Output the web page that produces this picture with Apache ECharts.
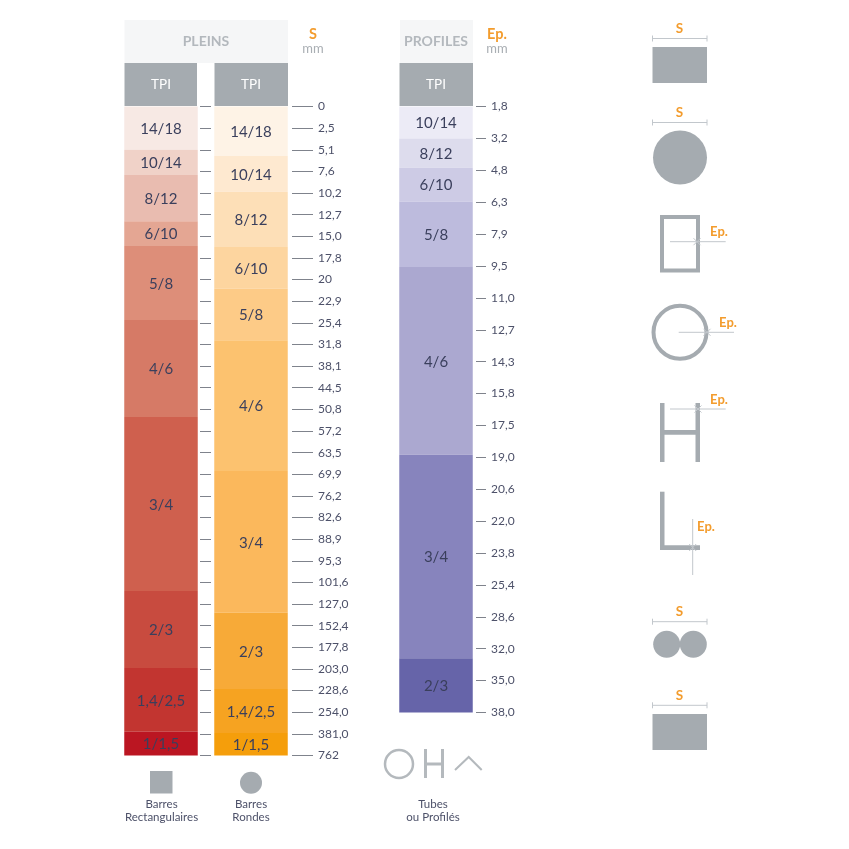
<!DOCTYPE html>
<html>
<head>
    <meta charset="UTF-8">
    <title>TPI</title>
    <script src="https://cdn.jsdelivr.net/npm/echarts@6/dist/echarts.min.js"></script>
    <style>
        html, body { margin: 0; padding: 0; background: #fff; }
    </style>
</head>
<body>
<div id="main" style="width: 849px;height:849px;"></div>
<script>
    // ticks are evenly spaced, so the value axes count tick steps and show these labels
    var sLabels = ['0', '2,5', '5,1', '7,6', '10,2', '12,7', '15,0', '17,8', '20', '22,9', '25,4', '31,8', '38,1',
        '44,5', '50,8', '57,2', '63,5', '69,9', '76,2', '82,6', '88,9', '95,3', '101,6', '127,0', '152,4', '177,8',
        '203,0', '228,6', '254,0', '381,0', '762'];
    var epLabels = ['1,8', '3,2', '4,8', '6,3', '7,9', '9,5', '11,0', '12,7', '14,3', '15,8', '17,5', '19,0', '20,6',
        '22,0', '23,8', '25,4', '28,6', '32,0', '35,0', '38,0'];

    var barTypes = ['Barres Rectangulaires', 'Barres Rondes'];
    var tpiPleins = ['14/18', '10/14', '8/12', '6/10', '5/8', '4/6', '3/4', '2/3', '1,4/2,5', '1/1,5'];
    var rectSpans = [2.0, 1.17, 2.13, 1.15, 3.42, 4.48, 8.05, 3.55, 2.95, 1.1];
    var rondSpans = [2.29, 1.65, 2.56, 1.93, 2.37, 6.05, 6.55, 3.53, 2.03, 1.04];
    var rectColors = ['#f7e9e4', '#f0d2c8', '#e9bcb0', '#e4a693', '#dd8e79', '#d67a66', '#cf604e', '#c84b3f', '#c23530', '#bb1622'];
    var rondColors = ['#fef3e6', '#fee9d0', '#fddfb7', '#fdd59f', '#fdcb87', '#fcc26f', '#fbb85c', '#f7aa38', '#f6a321', '#f59e0b'];

    var tpiProfiles = ['10/14', '8/12', '6/10', '5/8', '4/6', '3/4', '2/3'];
    var profileSpans = [1.0, 0.92, 1.06, 2.05, 5.89, 6.38, 1.7];
    var profileColors = ['#ecebf6', '#dddced', '#cdcbe5', '#bdbbdd', '#aba8d0', '#8784bd', '#6664a9'];

    var fontName = 'Lato, "Noto Sans", sans-serif';
    var inkColor = '#3a3f5c';
    var greyColor = '#a5abb0';
    var lineColor = '#c2c7cc';
    var orangeColor = '#f39c2d';

    var series = [];
    tpiPleins.forEach(function (name, i) {
        series.push({
            name: name, type: 'bar', stack: 'pleins', xAxisIndex: 0, yAxisIndex: 0, barWidth: 73.5,
            label: {show: true, position: 'inside', offset: [0, 1], formatter: name, color: inkColor, fontSize: 15, fontFamily: fontName},
            data: [
                {value: rectSpans[i], itemStyle: {color: rectColors[i]}},
                {value: rondSpans[i], itemStyle: {color: rondColors[i]}}
            ]
        });
    });
    tpiProfiles.forEach(function (name, i) {
        series.push({
            name: name, type: 'bar', stack: 'profiles', xAxisIndex: 2, yAxisIndex: 3, barWidth: 73.5,
            label: {show: true, position: 'inside', offset: [0, 1], formatter: name, color: inkColor, fontSize: 15, fontFamily: fontName},
            data: [{value: profileSpans[i], itemStyle: {color: profileColors[i]}}]
        });
    });

    function stepAxis(grid, labels, position, tickLength, showLabels) {
        return {
            type: 'value', gridIndex: grid, position: position, inverse: true,
            min: 0, max: labels.length - 1, interval: 1,
            splitLine: {show: false}, axisLine: {show: false},
            axisTick: {show: tickLength > 0, length: tickLength, lineStyle: {color: '#7f838c', width: 1}},
            axisLabel: {
                show: showLabels, margin: tickLength + 5, color: '#4d5169', fontSize: 12, fontFamily: fontName,
                padding: [3, 0, 0, 0],
                formatter: function (v) { return labels[v]; }
            }
        };
    }

    // decoration around the chart
    var graphics = [];
    function rect(x, y, w, h, fill) {
        graphics.push({type: 'rect', shape: {x: x, y: y, width: w, height: h}, style: {fill: fill}});
    }
    function circle(cx, cy, r, fill, stroke, sw) {
        graphics.push({type: 'circle', shape: {cx: cx, cy: cy, r: r}, style: {fill: fill, stroke: stroke, lineWidth: sw}});
    }
    function line(x1, y1, x2, y2, color, w) {
        graphics.push({type: 'line', z: 5, shape: {x1: x1, y1: y1, x2: x2, y2: y2}, style: {stroke: color, lineWidth: w}});
    }
    function text(x, y, str, size, color, weight) {
        graphics.push({
            type: 'text', x: x, y: y,
            style: {text: str, fontSize: size, fill: color, fontWeight: weight || 'normal', fontFamily: fontName, align: 'center', verticalAlign: 'middle'}
        });
    }
    function sizeMark(y, label) {
        text(679.5, y - 10, label, 13.5, orangeColor, 'bold');
        line(652.5, y, 707, y, lineColor, 1);
        line(652.5, y - 3, 652.5, y + 3, lineColor, 1);
        line(707, y - 3, 707, y + 3, lineColor, 1);
    }
    function crossMark(x, y) {
        line(x - 3.5, y - 3.5, x + 3.5, y + 3.5, lineColor, 1);
        line(x - 3.5, y + 3.5, x + 3.5, y - 3.5, lineColor, 1);
    }

    rect(124.5, 20, 163.5, 43, '#f5f6f7');
    rect(400, 20, 73, 43, '#f5f6f7');
    rect(124.5, 63, 72.5, 43, greyColor);
    rect(214.5, 63, 73.5, 43, greyColor);
    rect(399.5, 63, 73.5, 43, greyColor);
    text(206, 41, 'PLEINS', 14, '#b3b8bd', 'bold');
    text(436, 41, 'PROFILES', 14, '#b3b8bd', 'bold');
    text(161, 85, 'TPI', 13.5, '#ffffff');
    text(251, 85, 'TPI', 13.5, '#ffffff');
    text(436, 85, 'TPI', 13.5, '#ffffff');
    text(313, 34, 'S', 14.5, orangeColor, 'bold');
    text(313, 49, 'mm', 13, '#a9aeb3');
    text(497, 34, 'Ep.', 14.5, orangeColor, 'bold');
    text(497, 49, 'mm', 13, '#a9aeb3');

    // legend under the columns
    rect(150, 771, 22.5, 22.5, greyColor);
    circle(251, 782.7, 11, greyColor);
    text(161.5, 804, 'Barres', 11.5, '#4d5169');
    text(161.5, 817, 'Rectangulaires', 11.5, '#4d5169');
    text(251, 804, 'Barres', 11.5, '#4d5169');
    text(251, 817, 'Rondes', 11.5, '#4d5169');
    circle(399, 764, 14, 'none', '#b4b9bd', 2.5);
    rect(424, 749, 3, 29, '#b4b9bd');
    rect(441, 749, 3, 29, '#b4b9bd');
    rect(424, 762.5, 20, 3, '#b4b9bd');
    graphics.push({type: 'polyline', shape: {points: [[455, 770], [468.7, 757], [481.7, 770]]}, style: {fill: 'none', stroke: '#b4b9bd', lineWidth: 2}});
    text(433, 804, 'Tubes', 11.5, '#4d5169');
    text(433, 817.5, 'ou Profilés', 11.5, '#4d5169');

    // section pictograms on the right
    sizeMark(38.5, 'S');
    rect(652.5, 47, 54.5, 36, greyColor);
    sizeMark(122.5, 'S');
    circle(680, 157.5, 27, greyColor);

    graphics.push({type: 'rect', shape: {x: 662, y: 217, width: 36, height: 53.5}, style: {fill: 'none', stroke: greyColor, lineWidth: 4}});
    line(670, 241.7, 725.7, 241.7, lineColor, 1);
    crossMark(697, 241.7);
    text(719, 232, 'Ep.', 13, orangeColor, 'bold');

    circle(680, 332.3, 26.5, 'none', greyColor, 4);
    line(678.7, 332.3, 734, 332.3, lineColor, 1);
    crossMark(707, 332.3);
    text(728, 323, 'Ep.', 13, orangeColor, 'bold');

    rect(660, 403, 4.5, 59, greyColor);
    rect(695.5, 403, 4.5, 59, greyColor);
    rect(660, 430, 40, 4.7, greyColor);
    line(670, 409, 725.7, 409, lineColor, 1);
    crossMark(698, 409);
    text(719, 400, 'Ep.', 13, orangeColor, 'bold');

    rect(660, 491.7, 4.5, 58.3, greyColor);
    rect(660, 545.3, 40, 4.7, greyColor);
    line(692.7, 519, 692.7, 575, lineColor, 1);
    crossMark(692.7, 547.5);
    text(706, 527, 'Ep.', 13, orangeColor, 'bold');

    sizeMark(621.7, 'S');
    circle(666.7, 644.3, 13.5, greyColor);
    circle(693.3, 644.3, 13.5, greyColor);
    sizeMark(705.3, 'S');
    rect(652.5, 714, 54.5, 36, greyColor);

    var myChart = echarts.init(document.getElementById('main'));
    myChart.setOption({
        animation: false,
        backgroundColor: '#fff',
        grid: [
            {left: 116, top: 106.5, width: 180, height: 649},
            {left: 211, top: 106.5, width: 81, height: 649},
            {left: 396, top: 106.5, width: 80, height: 606}
        ],
        xAxis: [
            {type: 'category', gridIndex: 0, data: barTypes, show: false},
            {type: 'value', gridIndex: 1, show: false},
            {type: 'category', gridIndex: 2, data: ['Tubes ou Profilés'], show: false}
        ],
        yAxis: [
            stepAxis(0, sLabels, 'left', 0, false),
            stepAxis(1, sLabels, 'left', 11, false),
            stepAxis(1, sLabels, 'right', 21, true),
            stepAxis(2, epLabels, 'right', 10, true)
        ],
        series: series,
        graphic: {elements: graphics}
    });
</script>
</body>
</html>
